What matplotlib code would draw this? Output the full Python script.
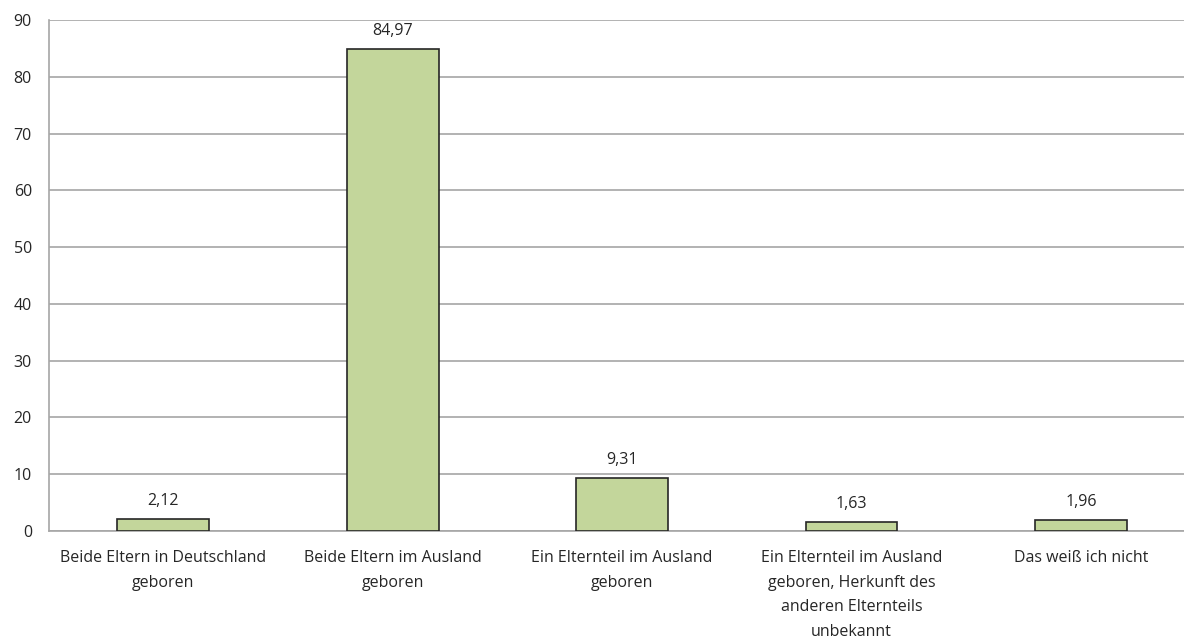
import matplotlib.pyplot as plt

kategorien = [
    "Beide Eltern in Deutschland\ngeboren",
    "Beide Eltern im Ausland\ngeboren",
    "Ein Elternteil im Ausland\ngeboren",
    "Ein Elternteil im Ausland\ngeboren, Herkunft des\nanderen Elternteils\nunbekannt",
    "Das weiß ich nicht",
]
anteile = [2.12, 84.97, 9.31, 1.63, 1.96]
y_ticks = list(range(0, 100, 10))

plt.rcParams["font.family"] = ["Open Sans", "DejaVu Sans"]

fig = plt.figure(figsize=(11.84, 6.39), dpi=100)
# rechter Rand läuft über die Bildkante hinaus (Gitterlinien bis zum Rand)
ax = fig.add_axes([0.041, 0.169, 0.9688, 0.7997])

pos = range(len(kategorien))
ax.bar(pos, anteile, width=0.40, color="#C3D69B",
       edgecolor="#262626", linewidth=1.2, zorder=3)

for x, v in zip(pos, anteile):
    ax.annotate(f"{v:.2f}".replace(".", ","), (x, v), xytext=(0, 7),
                textcoords="offset points", ha="center", va="bottom",
                fontsize=11.5, color="#262626")

ax.set_xlim(-0.5, len(kategorien) - 0.5)
ax.set_ylim(0, 90)
ax.set_yticks(y_ticks)
ax.set_xticks(list(pos))
ax.set_xticklabels(kategorien, fontsize=11.5, color="#262626", linespacing=1.7)
ax.tick_params(axis="y", labelsize=11.5, labelcolor="#262626", length=0, pad=12)
ax.tick_params(axis="x", length=0, pad=14)

ax.grid(axis="y", color="#A6A6A6", linewidth=1.2, zorder=0)
for side in ["top", "right"]:
    ax.spines[side].set_visible(False)
for side in ["left", "bottom"]:
    ax.spines[side].set_color("#A6A6A6")
    ax.spines[side].set_linewidth(1.2)

fig.savefig("out.png", dpi=100)
